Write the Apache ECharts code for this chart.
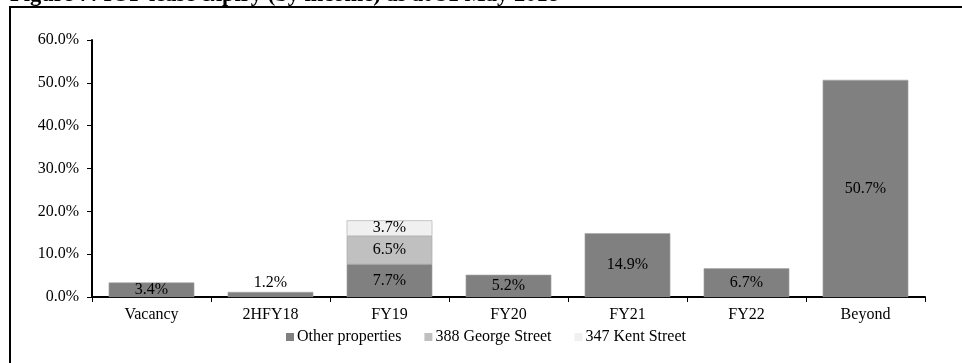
<!DOCTYPE html>
<html>
<head>
<meta charset="utf-8">
<script src="https://cdn.jsdelivr.net/npm/echarts@6/dist/echarts.min.js"></script>
<style>
  html, body { margin: 0; padding: 0; background: #fff; }
  #chart { width: 962px; height: 363px; }
</style>
</head>
<body>
<div id="chart"></div>
<script>
// Lease expiry profile by income, share of total (%)
const categories = ['Vacancy', '2HFY18', 'FY19', 'FY20', 'FY21', 'FY22', 'Beyond'];
const otherProperties = [3.4, 1.2, 7.7, 5.2, 14.9, 6.7, 50.7];
const georgeStreet388 = [null, null, 6.5, null, null, null, null];
const kentStreet347 = [null, null, 3.7, null, null, null, null];
const seriesNames = ['Other properties', '388 George Street', '347 Kent Street'];
const titleText = 'Figure 7: IOF lease expiry (by income) as at 31 May 2018';

const FONT = '"Liberation Serif", "Times New Roman", serif';
const FS = 16;
const labelFmt = p => p.value.toFixed(1) + '%';

// Bars too thin to hold their label get it drawn just above instead
const labelAbove = new Set(['2HFY18']);

function buildData(values) {
  return values.map((v, i) => {
    if (v == null) return null;
    if (labelAbove.has(categories[i])) {
      return { value: v, label: { position: 'top', distance: 1 } };
    }
    return v;
  });
}

function barSeries(name, values, color) {
  return {
    name: name,
    type: 'bar',
    stack: 'total',
    barCategoryGap: '28%',
    data: buildData(values),
    itemStyle: { color: color, borderColor: '#a6a6a6', borderWidth: 0.6 },
    label: {
      show: true,
      position: 'inside',
      formatter: labelFmt,
      color: '#000',
      fontFamily: FONT,
      fontSize: FS
    },
    emphasis: { disabled: true }
  };
}

const chart = echarts.init(document.getElementById('chart'), null, { renderer: 'canvas' });
chart.setOption({
  animation: false,
  backgroundColor: '#fff',
  textStyle: { fontFamily: FONT },
  grid: { left: 92, right: 37, top: 40, bottom: 66, containLabel: false },
  graphic: [
    {
      type: 'rect',
      shape: { x: 10, y: 7, width: 1000, height: 400 },
      style: { fill: 'none', stroke: '#000', lineWidth: 2 },
      silent: true
    },
    {
      type: 'text',
      x: 10,
      y: 7,
      style: {
        text: titleText,
        font: 'bold 22.5px ' + FONT,
        fill: '#000',
        verticalAlign: 'bottom'
      },
      silent: true
    }
  ],
  legend: {
    bottom: 13,
    left: 281,
    icon: 'rect',
    itemWidth: 8,
    itemHeight: 8,
    itemGap: 23,
    selectedMode: false,
    itemStyle: { borderWidth: 0 },
    textStyle: { fontFamily: FONT, fontSize: FS, color: '#000', padding: [0, 0, 0, -2] },
    data: seriesNames
  },
  xAxis: {
    type: 'category',
    data: categories,
    axisLine: { lineStyle: { color: '#000', width: 2 } },
    axisTick: { show: true, length: 5, lineStyle: { color: '#000', width: 1 } },
    axisLabel: { color: '#000', fontFamily: FONT, fontSize: FS, margin: 10 }
  },
  yAxis: {
    type: 'value',
    min: 0,
    max: 60,
    interval: 10,
    axisLine: { show: true, lineStyle: { color: '#000', width: 2 } },
    axisTick: { show: true, length: 5, lineStyle: { color: '#000', width: 1 } },
    splitLine: { show: false },
    axisLabel: {
      color: '#000',
      fontFamily: FONT,
      fontSize: FS,
      margin: 13,
      formatter: v => v.toFixed(1) + '%'
    }
  },
  series: [
    barSeries(seriesNames[0], otherProperties, '#808080'),
    barSeries(seriesNames[1], georgeStreet388, '#c0c0c0'),
    barSeries(seriesNames[2], kentStreet347, '#f0f0f0')
  ]
});
</script>
</body>
</html>
